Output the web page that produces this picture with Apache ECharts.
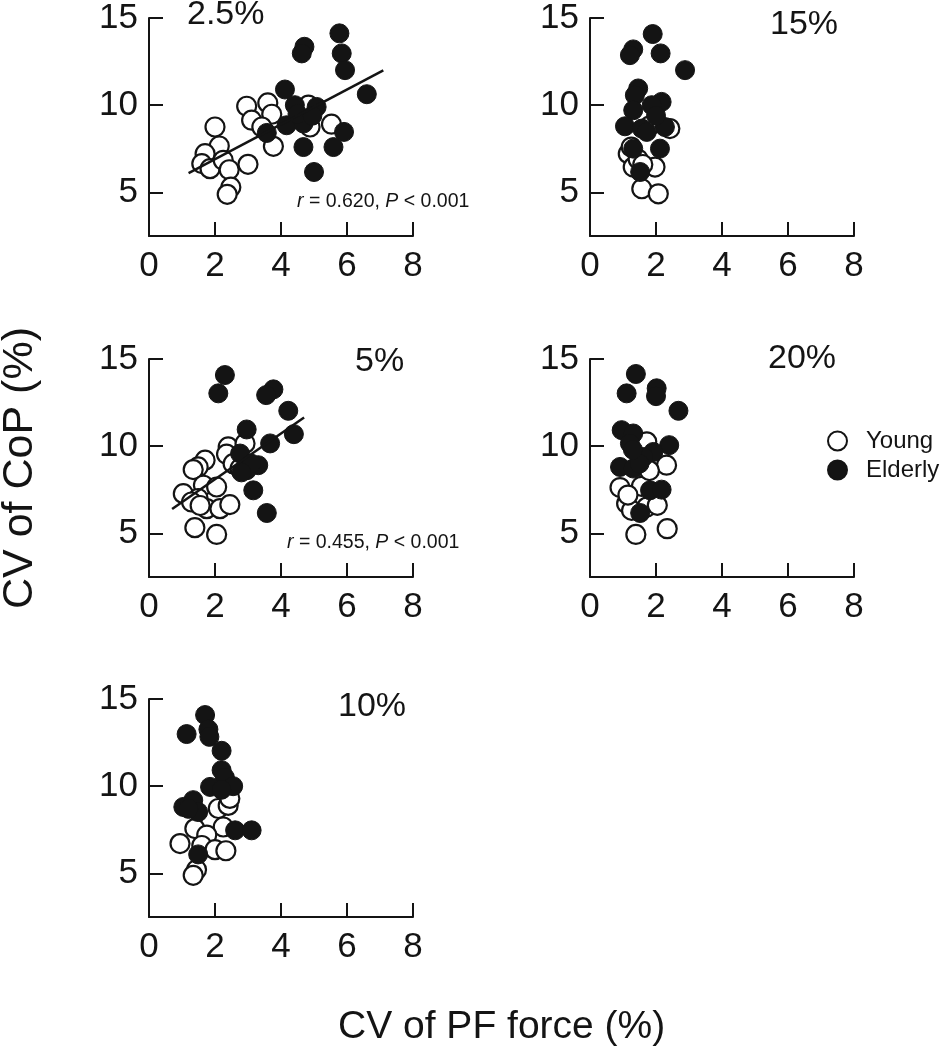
<!DOCTYPE html>
<html><head><meta charset="utf-8">
<script src="https://cdn.jsdelivr.net/npm/echarts@6/dist/echarts.min.js"></script>
<style>html,body{margin:0;padding:0;background:#fff}#c{width:942px;height:1050px}</style>
</head><body><div id="c"></div>
<script>
// ---- data (CV of PF force %, CV of CoP %) ----
const panelTitles = ['2.5%', '15%', '5%', '20%', '10%'];
const xTicks = [0, 2, 4, 6, 8];
const yTicks = [5, 10, 15];

const young25 = [[2.0,8.75],[2.96,9.94],[3.6,10.13],[3.72,9.48],[3.11,9.14],[3.42,8.75],[3.77,7.64],[2.13,7.66],[1.70,7.22],[1.6,6.65],[1.85,6.36],[2.25,6.84],[2.43,6.3],[3.0,6.61],[2.48,5.3],[2.37,4.89],[4.88,8.75],[4.83,10.0],[5.53,8.91]];
const elderly25 = [[5.77,14.12],[4.71,13.35],[4.63,12.97],[5.84,12.97],[5.94,12.01],[6.6,10.63],[4.12,10.9],[4.42,10.0],[5.08,9.9],[4.17,8.85],[4.68,8.95],[3.57,8.41],[5.91,8.47],[4.68,7.6],[5.59,7.6],[5.0,6.17],[4.5,9.5],[4.95,9.4]];

const young15 = [[1.16,7.22],[1.31,6.45],[1.97,6.45],[1.57,5.21],[2.07,4.92],[1.46,6.9],[2.42,8.66],[1.8,8.8],[1.6,6.6],[1.25,7.6]];
const elderly15 = [[1.9,14.08],[1.31,13.2],[1.21,12.87],[2.14,12.97],[2.88,12.01],[1.46,10.96],[1.36,10.57],[2.17,10.19],[1.87,10.0],[1.31,9.71],[1.06,8.79],[1.57,8.66],[2.27,8.75],[1.72,8.47],[2.12,7.51],[1.31,7.51],[1.52,6.17],[2.0,9.4]];

const young5 = [[2.4,9.96],[2.91,10.16],[2.35,9.54],[1.7,9.2],[1.49,8.81],[1.34,8.66],[2.55,9.0],[2.76,8.72],[1.65,7.76],[2.05,7.66],[1.04,7.28],[1.49,7.0],[1.29,6.8],[1.75,6.42],[2.15,6.42],[2.45,6.65],[1.55,6.6],[1.39,5.33],[2.05,4.94]];
const elderly5 = [[2.3,14.08],[2.1,13.03],[3.77,13.26],[3.55,12.93],[4.22,12.03],[4.39,10.69],[2.96,10.96],[3.67,10.16],[2.76,9.58],[3.31,8.91],[2.96,8.62],[3.16,7.47],[3.57,6.17],[3.1,9.0],[2.8,8.5]];

const young20 = [[1.72,10.25],[2.32,8.91],[0.91,7.63],[1.56,7.7],[1.11,6.71],[1.26,6.32],[1.72,6.51],[2.04,6.61],[2.34,5.27],[1.39,4.94],[1.8,8.6],[1.15,7.2]];
const elderly20 = [[1.39,14.14],[1.11,13.03],[2.02,13.32],[2.0,12.87],[2.68,12.03],[0.96,10.92],[1.31,10.73],[1.21,10.16],[2.4,10.06],[1.92,9.67],[1.62,9.38],[0.91,8.81],[1.31,8.72],[1.5,9.0],[1.82,7.47],[2.17,7.51],[1.52,6.17],[1.3,9.8]];

const young10 = [[2.1,8.72],[2.4,8.9],[1.39,7.57],[2.25,7.66],[1.75,7.2],[0.94,6.71],[1.6,6.6],[2.0,6.36],[2.33,6.3],[1.44,5.21],[1.34,4.89],[2.45,9.3]];
const elderly10 = [[1.7,14.08],[1.14,12.99],[1.8,13.26],[1.83,12.83],[2.2,12.03],[2.2,10.92],[2.3,10.5],[1.85,9.96],[2.55,10.0],[1.34,9.2],[1.04,8.81],[1.49,8.52],[2.2,9.8],[2.61,7.47],[3.11,7.47],[1.49,6.09],[1.2,8.7]];

const fit25 = [[1.2,6.1],[7.1,12.0]];
const fit5 = [[0.7,6.4],[4.7,11.65]];
const stat25 = ['r', ' = 0.620, ', 'P', ' < 0.001'];
const stat5 = ['r', ' = 0.455, ', 'P', ' < 0.001'];
const xTitle = 'CV of PF force (%)';
const yTitle = 'CV of CoP (%)';

// ---- layout ----
const FONT = '"Liberation Sans", Arial, Helvetica, sans-serif';
const INK = '#141414';
const grids = [
  {left:149, top:18,  width:264, height:218},
  {left:590, top:18,  width:264, height:218},
  {left:149, top:359, width:264, height:218},
  {left:590, top:359, width:264, height:218},
  {left:149, top:699, width:264, height:218}
];
const youngSets = [young25, young15, young5, young20, young10];
const elderlySets = [elderly25, elderly15, elderly5, elderly20, elderly10];
const fits = [fit25, null, fit5, null, null];
const titlePos = [[187,15],[770,25],[355,362],[768,359],[338,707]];

const xAxes = grids.map((g,i)=>({
  type:'value', gridIndex:i, min:xTicks[0], max:xTicks[xTicks.length-1], interval:2,
  axisLine:{show:true, onZero:false, lineStyle:{color:INK, width:2}},
  axisTick:{show:true, inside:true, length:14, lineStyle:{color:INK, width:2}},
  axisLabel:{fontSize:35, color:INK, fontFamily:FONT, margin:13},
  splitLine:{show:false}
}));
const yAxes = grids.map((g,i)=>({
  type:'value', gridIndex:i, min:2.5, max:15,
  axisLine:{show:true, onZero:false, lineStyle:{color:INK, width:2}},
  axisTick:{show:true, inside:true, length:14, lineStyle:{color:INK, width:2}, customValues:yTicks},
  axisLabel:{fontSize:35, color:INK, fontFamily:FONT, margin:11, customValues:yTicks},
  splitLine:{show:false}
}));

const series = [];
grids.forEach((g,i)=>{
  series.push({
    name:'Young', type:'scatter', xAxisIndex:i, yAxisIndex:i, data:youngSets[i],
    symbol:'circle', symbolSize:19, z:2,
    itemStyle:{color:'#ffffff', borderColor:INK, borderWidth:2.2, opacity:1}
  });
  series.push({
    name:'Elderly', type:'scatter', xAxisIndex:i, yAxisIndex:i, data:elderlySets[i],
    symbol:'circle', symbolSize:19, z:3,
    itemStyle:{color:INK, borderColor:INK, borderWidth:1, opacity:1}
  });
  if (fits[i]) {
    series.push({
      type:'line', xAxisIndex:i, yAxisIndex:i, data:fits[i], showSymbol:false, silent:true, z:4,
      lineStyle:{color:INK, width:2.5}
    });
  }
});

const graphics = [];
panelTitles.forEach((t,i)=>{
  graphics.push({type:'text', left:titlePos[i][0], top:titlePos[i][1]-17,
    style:{text:t, font:'34px '+FONT, fill:INK}});
});
function statText(parts, x, y){
  return {type:'text', left:x, top:y-10, style:{
    text:'{i|'+parts[0]+'}{n|'+parts[1]+'}{i|'+parts[2]+'}{n|'+parts[3]+'}',
    rich:{i:{fontStyle:'italic', fontSize:19.5, fontFamily:FONT, fill:INK, color:INK},
          n:{fontSize:19.5, fontFamily:FONT, fill:INK, color:INK}},
    font:'19.5px '+FONT, fill:INK}};
}
graphics.push(statText(stat25, 297, 202));
graphics.push(statText(stat5, 287, 543));
graphics.push({type:'text', left:338, top:1008, style:{text:xTitle, font:'39px '+FONT, fill:INK}});
graphics.push({type:'text', x:20, y:468, rotation:Math.PI/2,
  style:{text:yTitle, font:'43px '+FONT, fill:INK, align:'center', verticalAlign:'middle', textAlign:'center', textVerticalAlign:'middle'}});

const chart = echarts.init(document.getElementById('c'), null, {renderer:'canvas'});
chart.setOption({
  backgroundColor:'#ffffff',
  animation:false,
  grid:grids,
  xAxis:xAxes,
  yAxis:yAxes,
  series:series,
  legend:{
    data:['Young','Elderly'], orient:'vertical', left:827, top:429, padding:0,
    itemWidth:19, itemHeight:19, itemGap:5, selectedMode:false, icon:'circle',
    textStyle:{fontSize:24, lineHeight:24, color:INK, fontFamily:FONT, padding:[0,0,0,14]}
  },
  graphic:graphics
});
</script>
</body></html>
